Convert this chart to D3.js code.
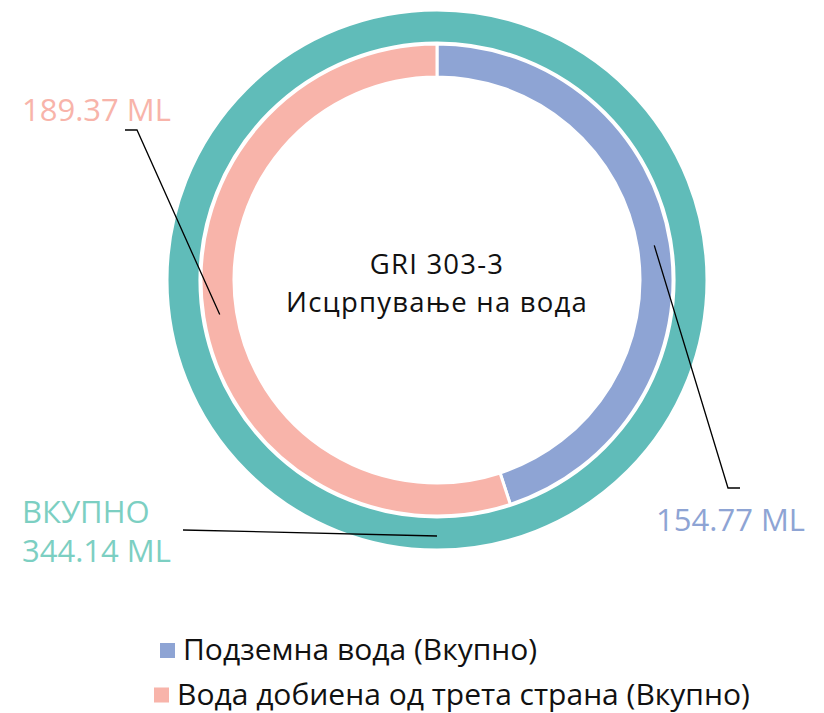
<!DOCTYPE html>
<html>
<head>
<meta charset="utf-8">
<script src="https://cdn.jsdelivr.net/npm/d3@7"></script>
<style>
  html, body { margin: 0; padding: 0; background: #fff; }
  svg { display: block; font-family: "Open Sans", "Noto Sans", sans-serif; }
</style>
</head>
<body>
<svg id="chart" width="824" height="713"></svg>
<script>
// Water withdrawal (ML)
const categories = ["Подземна вода (Вкупно)", "Вода добиена од трета страна (Вкупно)"];
const values = [154.77, 189.37];
const totalLabel = "ВКУПНО";
const totalValue = 344.14;
const colors = ["#8ea4d4", "#f8b4aa"];
const totalColor = "#60bcb9";
const totalTextColor = "#7ccfc2";
const centerLines = ["GRI 303-3", "Исцрпување на вода"];

const svg = d3.select("#chart");
const cx = 437, cy = 280;

const pie = d3.pie().sort(null).value(d => d);
const innerArcs = pie(values);
const outerArcs = pie([totalValue]);

const outerArc = d3.arc().innerRadius(237).outerRadius(270);
const innerArc = d3.arc().innerRadius(203).outerRadius(236);

const g = svg.append("g").attr("transform", `translate(${cx},${cy})`);

g.selectAll("path.total").data(outerArcs).join("path")
  .attr("class", "total")
  .attr("d", outerArc)
  .attr("fill", totalColor)
  .attr("stroke", "#fff").attr("stroke-width", 3);

g.selectAll("path.part").data(innerArcs).join("path")
  .attr("class", "part")
  .attr("d", innerArc)
  .attr("fill", (d, i) => colors[i])
  .attr("stroke", "#fff").attr("stroke-width", 3);

// centre title
g.selectAll("text.center").data(centerLines).join("text")
  .attr("class", "center")
  .attr("text-anchor", "middle")
  .attr("font-size", 27.5)
  .attr("letter-spacing", 1.2)
  .attr("fill", "#111")
  .attr("x", 0)
  .attr("y", (d, i) => -6 + i * 37.5)
  .text(d => d);

// leader-line anchor on a slice's mid angle
function anchor(d, r) {
  const a = (d.startAngle + d.endAngle) / 2;
  return [Math.sin(a) * r, -Math.cos(a) * r];
}
const fmt = d3.format(".2f");

// blue slice label (right)
{
  const [x0, y0] = anchor(innerArcs[0], 220);
  const elbow = [728 - cx, 488 - cy];
  g.append("polyline")
    .attr("points", [[x0, y0], elbow, [elbow[0] + 12, elbow[1]]].map(p => p.join(",")).join(" "))
    .attr("fill", "none").attr("stroke", "#000").attr("stroke-width", 1.3);
  svg.append("text")
    .attr("x", 805).attr("y", 531)
    .attr("text-anchor", "end")
    .attr("font-size", 31)
    .attr("fill", colors[0])
    .text(`${fmt(values[0])} ML`);
}

// salmon slice label (left)
{
  const [x0, y0] = anchor(innerArcs[1], 220);
  const elbow = [137 - cx, 130 - cy];
  g.append("polyline")
    .attr("points", [[x0, y0], elbow, [elbow[0] - 12, elbow[1]]].map(p => p.join(",")).join(" "))
    .attr("fill", "none").attr("stroke", "#000").attr("stroke-width", 1.3);
  svg.append("text")
    .attr("x", 22).attr("y", 121)
    .attr("font-size", 31)
    .attr("fill", colors[1])
    .text(`${fmt(values[1])} ML`);
}

// total label (bottom left)
{
  const [x0, y0] = anchor(outerArcs[0], 256);
  g.append("line")
    .attr("x1", 183 - cx).attr("y1", 530 - cy)
    .attr("x2", x0).attr("y2", y0)
    .attr("stroke", "#000").attr("stroke-width", 1.3);
  svg.append("text")
    .attr("x", 22).attr("y", 523)
    .attr("font-size", 31)
    .attr("fill", totalTextColor)
    .text(totalLabel);
  svg.append("text")
    .attr("x", 22).attr("y", 562)
    .attr("font-size", 31)
    .attr("fill", totalTextColor)
    .text(`${fmt(totalValue)} ML`);
}

// legend
const legend = svg.append("g");
const legendRows = [
  { x: 160, y: 650.5 },
  { x: 154, y: 695 }
];
categories.forEach((c, i) => {
  const row = legend.append("g").attr("transform", `translate(${legendRows[i].x},${legendRows[i].y})`);
  row.append("rect").attr("x", 0).attr("y", -7.5).attr("width", 15).attr("height", 15).attr("fill", colors[i]);
  row.append("text").attr("x", 23).attr("y", 9.5).attr("font-size", 30).attr("fill", "#111").text(c);
});
</script>
</body>
</html>
